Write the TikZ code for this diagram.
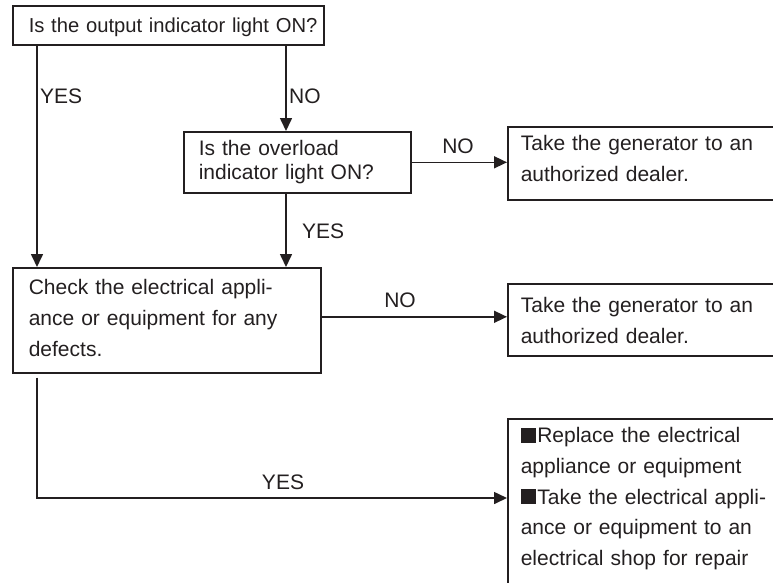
\documentclass[tikz,border=0pt]{standalone}
\usepackage{fontspec}
\setmainfont{Liberation Sans}
\usetikzlibrary{arrows.meta}
\definecolor{ink}{HTML}{231F20}
\newcommand{\sqbullet}{\rule{15pt}{15pt}\hspace{1.5pt}}
\begin{document}
\begin{tikzpicture}[x=1pt,y=-1pt,
  box/.style={draw=ink, line width=1.6pt, anchor=north west, inner ysep=0pt,
    align=left, text=ink, font=\fontsize{21}{30.7}\selectfont},
  lab/.style={inner sep=0pt, text=ink, font=\fontsize{21}{25}\selectfont},
  arr/.style={draw=ink, line width=1.6pt, -{Triangle[length=13pt,width=12pt]}}]

\useasboundingbox (0,0) rectangle (773,582);
\clip (0,0) rectangle (773,582);

\node[box, inner xsep=16pt, text width=279pt, text height=27pt, text depth=12pt,
  font=\fontsize{20.2}{24}\selectfont] (b1) at (12,5)
  {\mbox{Is the output indicator light ON?}};
\node[box, inner xsep=15pt, text width=197pt, text height=24pt, text depth=37pt,
  font=\fontsize{21}{24}\selectfont] (b2) at (183,131)
  {Is the overload\\indicator light ON?};
\node[box, inner xsep=13pt, text width=274pt, text height=24pt, text depth=49pt] (b4) at (507,126)
  {Take the generator to an\\authorized dealer.};
\node[box, inner xsep=16pt, text width=276pt, text height=27pt, text depth=78pt] (b3) at (12,267)
  {Check the electrical appli-\\ance or equipment for any\\defects.};
\node[box, inner xsep=13pt, text width=274pt, text height=29pt, text depth=43pt] (b5) at (507,283)
  {Take the generator to an\\authorized dealer.};
\node[box, inner xsep=13pt, text width=274pt, text height=24pt, text depth=170pt] (b6) at (507,418)
  {\sqbullet Replace the electrical\\appliance or equipment\\\sqbullet Take the electrical appli-\\ance or equipment to an\\electrical shop for repair};

% connectors
\coordinate (c1) at ([xshift=25pt]b3.north west);
\draw[arr] (b1.south -| c1) -- (c1);
\coordinate (c2) at ([xshift=103pt]b2.north west);
\draw[arr] (b1.south -| c2) -- (c2);
\draw[arr] (b2.east) -- (b2.east -| b4.west);
\coordinate (c3) at ([xshift=274pt]b3.north west);
\draw[arr] (b2.south -| c3) -- (c3);
\draw[arr] ([yshift=3.5pt]b3.east) -- ([yshift=3.5pt]b3.east -| b5.west);
\coordinate (c4) at ([xshift=25pt,yshift=-4pt]b3.south west);
\coordinate (c5) at ([yshift=-80pt]b6.north west);
\draw[arr] (c4) |- (c5);

% labels
\node[lab, anchor=west] (l1) at (40,96.5) {YES};
\node[lab, anchor=west] (l2) at (289,96.5) {NO};
\node[lab] (l3) at (458,146.5) {NO};
\node[lab, anchor=west] (l4) at (302,231.5) {YES};
\node[lab] (l5) at (400,300) {NO};
\node[lab] (l6) at (283,482) {YES};
\end{tikzpicture}
\end{document}
